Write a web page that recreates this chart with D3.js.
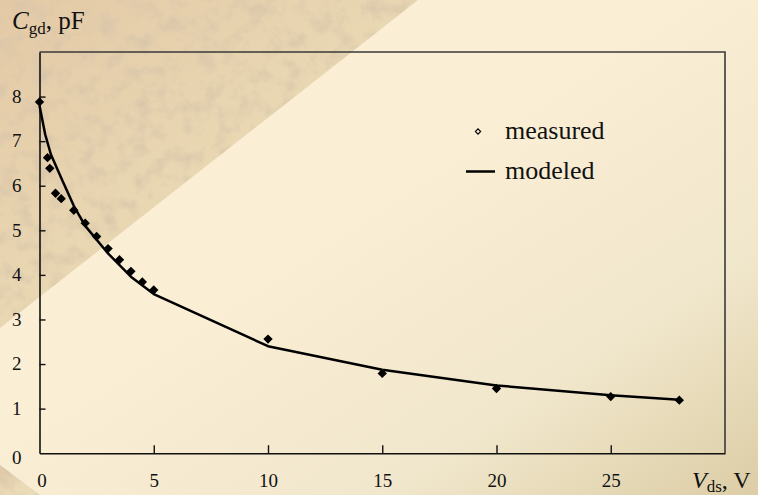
<!DOCTYPE html>
<html>
<head>
<meta charset="utf-8">
<script src="https://cdn.jsdelivr.net/npm/d3@7/dist/d3.min.js"></script>
</head>
<body style="margin:0">
<svg id="chart" width="758" height="495"></svg>
<script>
// Gate-drain capacitance vs drain-source voltage
const measuredV = [0, 0.35, 0.45, 0.7, 0.95, 1.5, 2, 2.5, 3, 3.5, 4, 4.5, 5, 10, 15, 20, 25, 28];
const measuredC = [7.88, 6.63, 6.39, 5.83, 5.71, 5.45, 5.16, 4.86, 4.59, 4.34, 4.08, 3.84, 3.66, 2.56, 1.79, 1.45, 1.27, 1.19];
const modeledV = [0, 0.25, 0.5, 1, 1.5, 2, 3, 4, 5, 10, 15, 20, 25, 28];
const modeledC = [7.8, 7.15, 6.7, 6.12, 5.55, 5.1, 4.48, 3.96, 3.57, 2.4, 1.87, 1.52, 1.3, 1.2];
const xTicks = [0, 5, 10, 15, 20, 25];
const yTicks = [0, 1, 2, 3, 4, 5, 6, 7, 8];
const legendLabels = ["measured", "modeled"];

const W = 758, H = 495;
const plot = { left: 39.5, right: 725, top: 52, bottom: 453.2 };
const SERIF = "Liberation Serif";

const svg = d3.select("#chart");
const defs = svg.append("defs");

// ---- parchment background ----
const bg = defs.append("linearGradient").attr("id", "bgGrad")
  .attr("x1", 0).attr("y1", 0).attr("x2", 1).attr("y2", 1);
bg.append("stop").attr("offset", "0").attr("stop-color", "#fcefd4");
bg.append("stop").attr("offset", "0.45").attr("stop-color", "#faeed5");
bg.append("stop").attr("offset", "0.75").attr("stop-color", "#f1e7cc");
bg.append("stop").attr("offset", "1").attr("stop-color", "#dccda5");

const band = defs.append("linearGradient").attr("id", "bandGrad")
  .attr("x1", 0).attr("y1", 0).attr("x2", 1).attr("y2", 1);
band.append("stop").attr("offset", "0").attr("stop-color", "#e4c9a6");
band.append("stop").attr("offset", "0.6").attr("stop-color", "#eadab5");
band.append("stop").attr("offset", "1").attr("stop-color", "#ecdebb");

// mottled paper grain for the darker band
const tex = defs.append("filter").attr("id", "tex")
  .attr("x", 0).attr("y", 0).attr("width", 1).attr("height", 1);
tex.append("feTurbulence").attr("type", "fractalNoise")
  .attr("baseFrequency", "0.06").attr("numOctaves", 4).attr("seed", 11).attr("result", "n");
tex.append("feColorMatrix").attr("in", "n").attr("type", "matrix")
  .attr("values", "0 0 0 0 0.68  0 0 0 0 0.56  0 0 0 0 0.40  -2.0 0 0 0 1.12").attr("result", "c");
tex.append("feComposite").attr("in", "c").attr("in2", "SourceGraphic").attr("operator", "in");

svg.append("rect").attr("width", W).attr("height", H).attr("fill", "url(#bgGrad)");

const bandPts = [[0, 0], [418, 0], [0, 328]];
const cornerPts = [[0, 465], [40, 495], [0, 495]];
[bandPts, cornerPts].forEach(p => {
  svg.append("polygon").attr("points", p.join(" ")).attr("fill", "url(#bandGrad)");
  svg.append("polygon").attr("points", p.join(" ")).attr("fill", "#000").attr("filter", "url(#tex)");
});

// ---- scales ----
const x = d3.scaleLinear().domain([0, 30]).range([plot.left, plot.right]);
const y = d3.scaleLinear().domain([0, 9]).range([plot.bottom, plot.top]);

// frame (top and right)
svg.append("path")
  .attr("d", `M${x(0)},${y(9)}H${x(30)}V${y(0)}`)
  .attr("fill", "none").attr("stroke", "#3a3a3a").attr("stroke-width", 1.6);

// x axis: inward ticks
const xAxis = svg.append("g").attr("transform", `translate(0,${y(0)})`)
  .call(d3.axisBottom(x).tickValues(xTicks).tickSizeInner(-8).tickSizeOuter(0)
    .tickPadding(20).tickFormat(d3.format("d")));
xAxis.attr("font-family", SERIF);
xAxis.select(".domain").attr("stroke", "#111").attr("stroke-width", 1.6);
xAxis.selectAll(".tick line").attr("stroke", "#111").attr("stroke-width", 1.4)
  .attr("display", d => d === 0 ? "none" : null);
xAxis.selectAll(".tick text").attr("font-family", SERIF).attr("font-size", 19).attr("fill", "#111")
  .attr("dx", d => d === 0 ? 2 : 0);

// y axis: inward ticks
const yAxis = svg.append("g").attr("transform", `translate(${x(0)},0)`)
  .call(d3.axisLeft(y).tickValues(yTicks).tickSizeInner(-6).tickSizeOuter(0)
    .tickPadding(18).tickFormat(d3.format("d")));
yAxis.attr("font-family", SERIF);
yAxis.select(".domain").attr("stroke", "#111").attr("stroke-width", 1.6);
yAxis.selectAll(".tick line").attr("stroke", "#111").attr("stroke-width", 1.4)
  .attr("display", d => d === 0 ? "none" : null);
yAxis.selectAll(".tick text").attr("font-family", SERIF).attr("font-size", 19).attr("fill", "#111")
  .attr("dy", d => d === 0 ? "0.55em" : "0.3em");

// axis titles
const yTitle = svg.append("text").attr("x", 12).attr("y", 29)
  .attr("font-family", SERIF).attr("font-size", 25).attr("fill", "#111");
yTitle.append("tspan").attr("font-style", "italic").text("C");
yTitle.append("tspan").attr("font-size", 17).attr("dy", 5).text("gd");
yTitle.append("tspan").attr("dy", -5).text(", pF");

const xTitle = svg.append("text").attr("x", 692).attr("y", 488)
  .attr("font-family", SERIF).attr("font-size", 24).attr("fill", "#111");
xTitle.append("tspan").attr("font-style", "italic").text("V");
xTitle.append("tspan").attr("font-size", 17).attr("dy", 4).text("ds");
xTitle.append("tspan").attr("dy", -4).text(", V");

// modeled curve
const modeled = modeledV.map((v, i) => [v, modeledC[i]]);
svg.append("path").datum(modeled)
  .attr("d", d3.line().x(d => x(d[0])).y(d => y(d[1])))
  .attr("fill", "none").attr("stroke", "#000").attr("stroke-width", 2.5)
  .attr("stroke-linejoin", "round");

// measured points: filled diamonds
const measured = measuredV.map((v, i) => [v, measuredC[i]]);
const diamond = d3.symbol().type(d3.symbolSquare).size(44);
svg.append("g").selectAll("path").data(measured).join("path")
  .attr("d", diamond)
  .attr("transform", d => `translate(${x(d[0])},${y(d[1])}) rotate(45)`)
  .attr("fill", "#000");

// legend
const lg = svg.append("g");
lg.append("path")
  .attr("d", d3.symbol().type(d3.symbolSquare).size(14))
  .attr("transform", "translate(478,131.5) rotate(45)")
  .attr("fill", "none").attr("stroke", "#000").attr("stroke-width", 1.1);
lg.append("line").attr("x1", 466).attr("x2", 495).attr("y1", 171.5).attr("y2", 171.5)
  .attr("stroke", "#000").attr("stroke-width", 2.5);
lg.selectAll("text").data(legendLabels).join("text")
  .attr("x", 505).attr("y", (d, i) => 139 + i * 40)
  .attr("font-family", SERIF).attr("font-size", 26).attr("fill", "#111")
  .text(d => d);
</script>
</body>
</html>
